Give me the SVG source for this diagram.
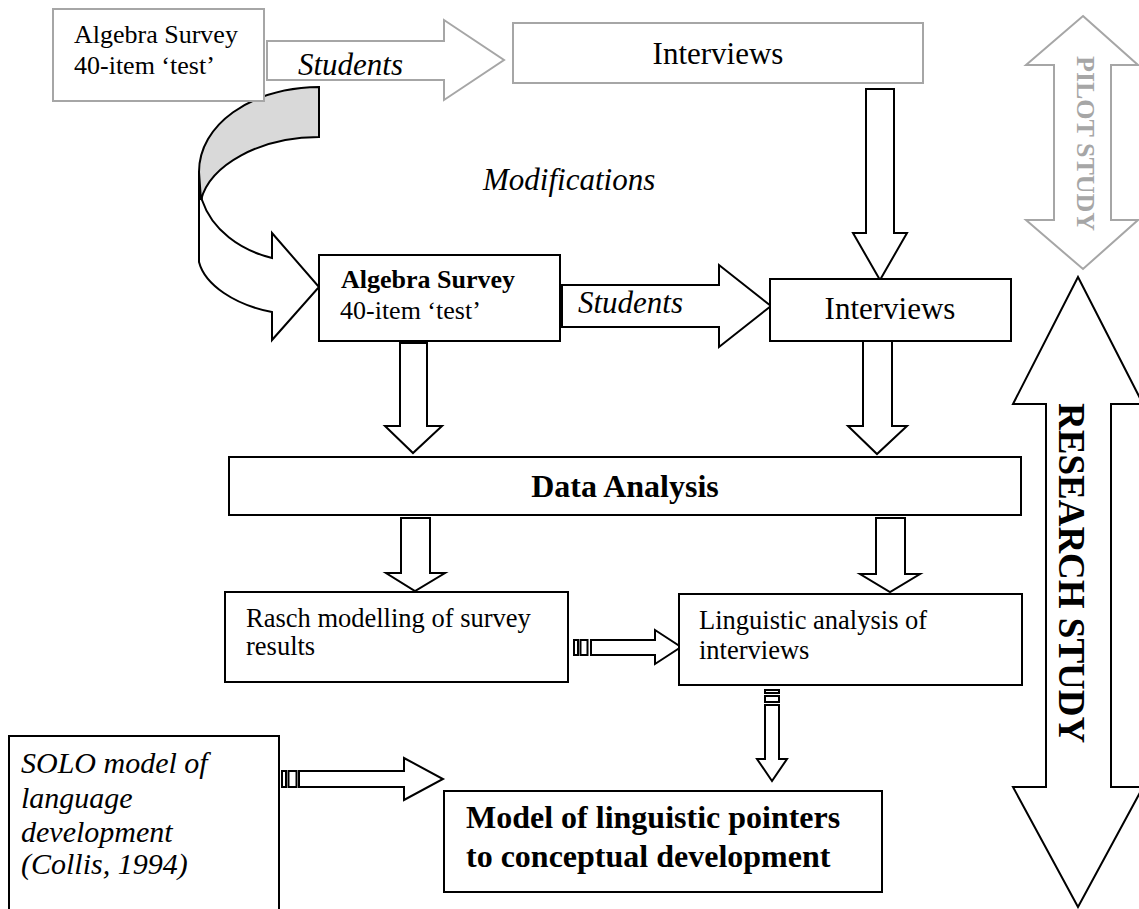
<svg xmlns="http://www.w3.org/2000/svg" width="1139" height="909" viewBox="0 0 1139 909">
<style>
  .g { fill:#fff; stroke:#a6a6a6; stroke-width:2; }
  .b { fill:#fff; stroke:#000; stroke-width:2; }
  .gray { fill:#d9d9d9; stroke:#000; stroke-width:2; }
  text { font-family:"Liberation Serif","Times New Roman",serif; fill:#000; }
  .it { font-style:italic; }
  .bd { font-weight:bold; }
</style>
<rect x="0" y="0" width="1139" height="909" fill="#fff"/>

<g id="connectors">
  <polygon id="arrow-students-pilot" class="g" points="267,41 444,41 444,20 504,60 444,100 444,80 267,80"/>
  <g id="arrow-curved">
    <path class="b" d="M199,172 L199,262 C205,285 235,305 272,312 L272,340 L319,287 L272,233 L272,258 C240,250 212,230 202,200 Z"/>
    <path class="gray" d="M319,87 C250,88 199,125 199,172 L201,200 C210,165 260,137 319,137 Z"/>
  </g>
  <polygon id="arrow-int-int" class="b" points="866,89 894,89 894,233 907,233 880,280 853,233 866,233"/>
  <polygon id="arrow-students-main" class="b" points="562,285 719,285 719,265 771,306 719,347 719,327 562,327"/>
  <polygon id="arrow-alg-data" class="b" points="400,343 427,343 427,426 442,426 413,453 385,426 400,426"/>
  <polygon id="arrow-int-data" class="b" points="863,341 892,341 892,426 907,426 877,454 848,426 863,426"/>
  <polygon id="arrow-data-rasch" class="b" points="401,518 430,518 430,573 445,573 415,591 386,573 401,573"/>
  <polygon id="arrow-data-ling" class="b" points="876,518 905,518 905,574 920,574 890,592 860,574 876,574"/>
  <g id="arrow-rasch-ling">
    <rect class="b" x="574" y="640" width="4" height="15"/>
    <rect class="b" x="580.5" y="640" width="7" height="15"/>
    <polygon class="b" points="591,640 655,640 655,630 681,647 655,664 655,655 591,655"/>
  </g>
  <g id="arrow-ling-model">
    <rect class="b" x="765" y="690" width="14" height="3"/>
    <rect class="b" x="765" y="696" width="14" height="6"/>
    <polygon class="b" points="765,705 779,705 779,759 787,759 772,781 757,759 765,759"/>
  </g>
  <g id="arrow-solo-model">
    <rect class="b" x="282" y="771" width="4" height="16"/>
    <rect class="b" x="288.5" y="771" width="8" height="16"/>
    <polygon class="b" points="299,771 404,771 404,758 443,779 404,800 404,787 299,787"/>
  </g>
</g>

<g id="label-students-1"><text class="it" x="298" y="75" font-size="31">Students</text></g>
<g id="label-modifications"><text class="it" x="483" y="190" font-size="31">Modifications</text></g>
<g id="label-students-2"><text class="it" x="578" y="313" font-size="31">Students</text></g>

<g id="node-survey-pilot">
  <rect class="g" x="53" y="9" width="211" height="92"/>
  <text x="74" y="43" font-size="26">Algebra Survey</text>
  <text x="74" y="74" font-size="26">40-item ‘test’</text>
</g>
<g id="node-interviews-pilot">
  <rect class="g" x="513" y="23" width="410" height="60"/>
  <text x="718" y="64" font-size="31" text-anchor="middle">Interviews</text>
</g>
<g id="node-survey">
  <rect class="b" x="319" y="255" width="241" height="86"/>
  <text class="bd" x="341" y="288" font-size="26">Algebra Survey</text>
  <text x="340" y="319" font-size="26">40-item ‘test’</text>
</g>
<g id="node-interviews">
  <rect class="b" x="770" y="279" width="241" height="62"/>
  <text x="890" y="319" font-size="31" text-anchor="middle">Interviews</text>
</g>
<g id="node-data-analysis">
  <rect class="b" x="229" y="457" width="792" height="58"/>
  <text class="bd" x="625" y="497" font-size="32" text-anchor="middle">Data Analysis</text>
</g>
<g id="node-rasch">
  <rect class="b" x="225" y="592" width="343" height="90"/>
  <text x="246" y="627" font-size="26.5">Rasch modelling of survey</text>
  <text x="246" y="655" font-size="26.5">results</text>
</g>
<g id="node-linguistic">
  <rect class="b" x="679" y="594" width="343" height="91"/>
  <text x="699" y="629" font-size="26.5">Linguistic analysis of</text>
  <text x="699" y="659" font-size="26.5">interviews</text>
</g>
<g id="node-solo">
  <rect class="b" x="9" y="736" width="270" height="200"/>
  <text class="it" x="21" y="773" font-size="30">SOLO model of</text>
  <text class="it" x="21" y="808" font-size="30">language</text>
  <text class="it" x="21" y="842" font-size="30">development</text>
  <text class="it" x="21" y="874" font-size="30">(Collis, 1994)</text>
</g>
<g id="node-model">
  <rect class="b" x="444" y="791" width="438" height="101"/>
  <text class="bd" x="466" y="828" font-size="32">Model of linguistic pointers</text>
  <text class="bd" x="466" y="867" font-size="32">to conceptual development</text>
</g>

<g id="node-pilot-study">
  <polygon class="g" points="1083,16 1138,65 1111,65 1111,220 1138,220 1083,269 1026,220 1054,220 1054,65 1026,65"/>
  <text class="bd" transform="translate(1077,56) rotate(90)" font-size="26" style="fill:#a6a6a6">PILOT STUDY</text>
</g>
<g id="node-research-study">
  <polygon class="b" points="1078,277 1143,404 1111,404 1111,787 1143,787 1078,907 1013,787 1046,787 1046,404 1013,404"/>
  <text class="bd" transform="translate(1059,403) rotate(90)" font-size="37">RESEARCH STUDY</text>
</g>
</svg>
